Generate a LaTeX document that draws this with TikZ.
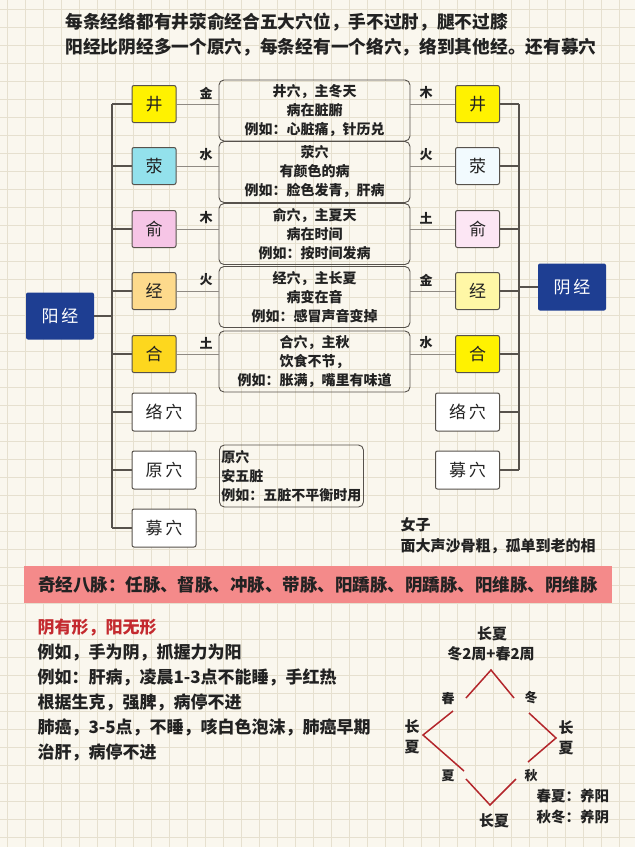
\documentclass[tikz,border=0pt]{standalone}
\usepackage{fontspec}
\setmainfont{Noto Sans CJK SC}
\usetikzlibrary{calc}

\definecolor{paper}{HTML}{FAF7EE}
\definecolor{gridgray}{HTML}{E6E0CF}
\definecolor{ink}{HTML}{222222}
\definecolor{boxgray}{HTML}{57524C}
\definecolor{linkgray}{HTML}{8F8A83}
\definecolor{navy}{HTML}{1E3E92}
\definecolor{bandpink}{HTML}{F48A8A}
\definecolor{chevronred}{HTML}{B3262B}
\definecolor{titlered}{HTML}{C42A2F}
\definecolor{jingyellow}{HTML}{FFF200}
\definecolor{yingcyan}{HTML}{93E1EC}
\definecolor{shupink}{HTML}{F6C5E6}
\definecolor{jingorange}{HTML}{FDDA8C}
\definecolor{hegold}{HTML}{FDD71E}
\definecolor{yingpale}{HTML}{F2FAFE}
\definecolor{shupale}{HTML}{FCE6F4}
\definecolor{jingpale}{HTML}{FFF7A6}

\newcommand\setsize[2]{\fontsize{#1}{#2}\selectfont\bfseries}
\newcommand\setplain[2]{\fontsize{#1}{#2}\selectfont}

\tikzset{
  pointbox/.style={draw=boxgray, line width=1pt, rounded corners=2pt,
    minimum width=44, minimum height=37, inner sep=0pt, font=\setplain{17}{17}},
  longbox/.style={pointbox, fill=white, minimum width=64, minimum height=38},
  meridianbox/.style={fill=navy, text=white, rounded corners=2pt, inner sep=0pt,
    minimum width=68, minimum height=47, font=\setplain{17}{17}},
  infobox/.style={draw=boxgray, line width=0.9pt, rounded corners=5pt, inner sep=0pt,
    minimum width=191, minimum height=61, align=center, font=\setsize{14}{19}},
  treeline/.style={draw=boxgray, line width=1.2pt},
  linkline/.style={draw=linkgray, line width=0.8pt},
  element/.style={font=\setsize{13}{13}},
  chevron/.style={draw=chevronred, line width=1.5pt},
}

\begin{document}
\begin{tikzpicture}[x=1pt,y=-1pt,text=ink]

        \fill[paper] (0,0) rectangle (635,847);
        \useasboundingbox (0,0) rectangle (635,847);
        \foreach \x in {7,25,...,635} \draw[gridgray,line width=0.6pt] (\x,0) -- (\x,847);
        \foreach \y in {9,27,...,847} \draw[gridgray,line width=0.6pt] (0,\y) -- (635,\y);

        \begin{scope}[every node/.style={anchor=west,font=\setsize{17.7}{17.7}}]
          \node (top1) at (62,22) {每条经络都有井荥俞经合五大穴位，手不过肘，腿不过膝};
          \node (top2) at (62,47) {阳经比阴经多一个原穴，每条经有一个络穴，络到其他经。还有募穴};
        \end{scope}

        \node[meridianbox] (yang) at (60,316) {阳\,经};
        \node[meridianbox] (yin)  at (572,287) {阴\,经};

        \begin{scope}[every node/.style={pointbox}]
          \node[fill=jingyellow] (L1) at (154,104) {井};
          \node[fill=yingcyan]   (L2) at (154,166) {荥};
          \node[fill=shupink]    (L3) at (154,229) {俞};
          \node[fill=jingorange] (L4) at (154,291) {经};
          \node[fill=hegold]     (L5) at (154,354) {合};
          \node[fill=jingyellow] (R1) at (477.5,104) {井};
          \node[fill=yingpale]   (R2) at (477.5,166) {荥};
          \node[fill=shupale]    (R3) at (477.5,229) {俞};
          \node[fill=jingpale]   (R4) at (477.5,291) {经};
          \node[fill=jingyellow] (R5) at (477.5,354) {合};
        \end{scope}

        \begin{scope}[every node/.style={longbox}]
          \node (L6) at (164,412) {络\,穴};
          \node (L7) at (164,470) {原\,穴};
          \node (L8) at (164,528) {募\,穴};
          \node (R6) at (467.5,412) {络\,穴};
          \node (R7) at (467.5,470) {募\,穴};
        \end{scope}

        \begin{scope}[every node/.style={infobox}]
          \node (M1) at (314.5,110.5) {井穴，主冬天\\病在脏腑\\例如：心脏痛，针历兑};
          \node (M2) at (314.5,172)   {荥穴\\有颜色的病\\例如：脸色发青，肝病};
          \node (M3) at (314.5,234)   {俞穴，主夏天\\病在时间\\例如：按时间发病};
          \node (M4) at (314.5,297)   {经穴，主长夏\\病变在音\\例如：感冒声音变掉};
          \node (M5) at (314.5,361.5) {合穴，主秋\\饮食不节，\\例如：胀满，嘴里有味道};
        \end{scope}
        \node[infobox, minimum width=144, minimum height=62, align=left, inner xsep=2pt,
          anchor=west] (M6) at (219,476) {原穴\\安五脏\\例如：五脏不平衡时用};

        \coordinate (lbus) at (112,0);
        \coordinate (rbus) at (519,0);
        \draw[treeline] (yang.east) -- (yang.east -| lbus);
        \draw[treeline] (L1.west -| lbus) -- (L8.west -| lbus);
        \foreach \n in {1,...,8}
          \draw[treeline] (L\n.west) -- (L\n.west -| lbus);
        \draw[treeline] (yin.west) -- (yin.west -| rbus);
        \draw[treeline] (R1.east -| rbus) -- (R7.east -| rbus);
        \foreach \n in {1,...,7}
          \draw[treeline] (R\n.east) -- (R\n.east -| rbus);

        \foreach \n in {1,...,5} {
          \draw[linkline] (L\n.east) -- (L\n.east -| M\n.west);
          \draw[linkline] (M\n.east |- R\n.west) -- (R\n.west);
        }

        \begin{scope}[every node/.style={element}]
          \node at (206,93)  {金};
          \node at (206,155) {水};
          \node at (206,218) {木};
          \node at (206,280) {火};
          \node at (206,343) {土};
          \node at (426,93)  {木};
          \node at (426,155) {火};
          \node at (426,218) {土};
          \node at (426,280) {金};
          \node at (426,343) {水};
        \end{scope}

        \node[anchor=west, align=left, font=\setsize{15}{21}] (girl) at (397,535.5)
          {女子\\面大声沙骨粗，孤单到老的相};

        \node[fill=bandpink, minimum width=588, minimum height=37, inner sep=0pt,
          font=\setsize{17.5}{17.5}] (band) at (318,584.5)
          {奇经八脉：任脉、督脉、冲脉、带脉、阳蹻脉、阴蹻脉、阳维脉、阴维脉};

        \node[anchor=west, align=left, font=\setsize{17}{25}] (notes) at (34,690.5)
          {\textcolor{titlered}{阴有形，阳无形}\\
           例如，手为阴，抓握力为阳\\
           例如：肝病，凌晨1-3点不能睡，手红热\\
           根据生克，强脾，病停不进\\
           肺癌，3-5点，不睡，咳白色泡沫，肺癌早期\\
           治肝，病停不进};

        \draw[chevron] (466,698) -- (491,670) -- (514,698);
        \draw[chevron] (453,711) -- (423,735) -- (464,771);
        \draw[chevron] (466,779) -- (490,805) -- (516,779);
        \draw[chevron] (529,713) -- (556,738) -- (528,762);

        \begin{scope}[every node/.style={font=\setsize{15}{20}, align=center}]
          \node (sumtop) at (492,634) {长夏};
          \node (mix)    at (491,654) {冬2周+春2周};
          \node (sumleft)  at (412,737) {长\\夏};
          \node (sumright) at (566,738) {长\\夏};
          \node (sumbot) at (494,821) {长夏};
        \end{scope}
        \begin{scope}[every node/.style={font=\setsize{13}{13}}]
          \node (spring) at (448,699) {春};
          \node (winter) at (531,698) {冬};
          \node (summer) at (448,776) {夏};
          \node (autumn) at (531,776) {秋};
        \end{scope}
        \node[anchor=west, align=left, font=\setsize{14.5}{21}] (nurture) at (533,806.5)
          {春夏：养阳\\秋冬：养阴};

      \end{tikzpicture}
\end{document}
